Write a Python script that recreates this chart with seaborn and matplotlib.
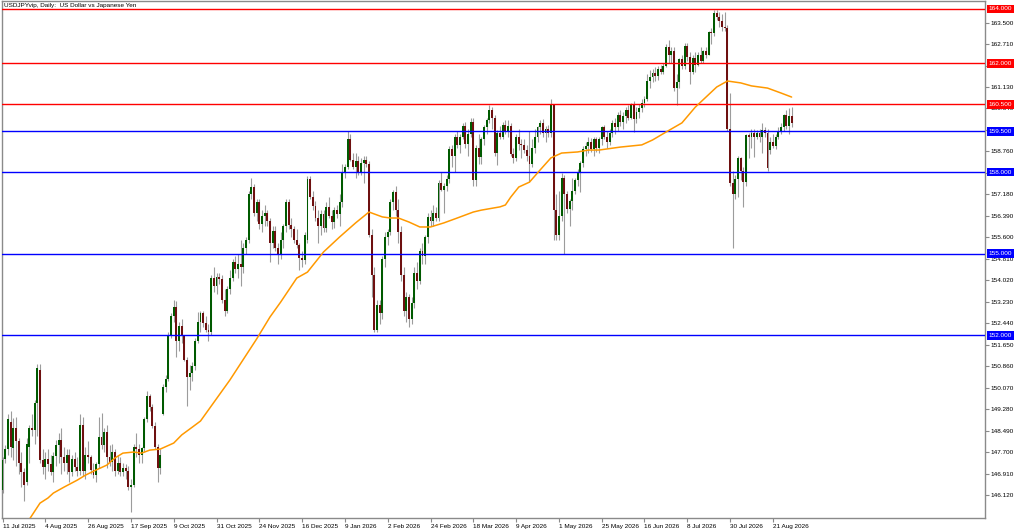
import numpy as np
import pandas as pd
import seaborn as sns
import matplotlib.pyplot as plt

sns.set_theme(style="white")
plt.rcParams['font.family'] = ['Liberation Sans', 'DejaVu Sans']

# ==========================================
# data
# ==========================================
opens = [
    146.30, 147.45, 147.80, 148.80, 147.85, 148.60, 148.10, 147.30, 146.95, 146.60, 147.90, 148.60, 148.50, 149.50, 150.70, 147.40,
    147.15, 147.45, 147.25, 146.95, 147.55, 147.95, 148.15, 147.50, 147.30, 147.60, 146.95, 147.45, 147.15, 147.00, 148.70, 147.00,
    147.60, 147.50, 147.05, 146.85, 147.25, 148.25, 147.95, 148.45, 147.50, 147.35, 147.70, 147.00, 147.30, 146.95, 147.10, 147.00,
    146.40, 146.50, 147.90, 147.80, 147.60, 147.85, 148.90, 149.75, 149.35, 148.65, 147.90, 147.10, 149.10, 150.10, 150.40, 152.00,
    152.70, 153.05, 151.80, 152.35, 152.00, 151.10, 150.45, 150.60, 150.85, 151.80, 152.50, 152.80, 152.45, 152.20, 152.10, 154.10,
    153.80, 154.15, 154.05, 153.30, 152.90, 153.70, 154.10, 154.70, 154.45, 154.60, 154.50, 155.20, 155.50, 157.20, 157.45, 156.50,
    156.90, 156.10, 156.40, 156.50, 156.20, 155.40, 155.85, 155.20, 155.00, 155.50, 156.00, 156.90, 156.05, 155.90, 155.50, 155.30,
    154.85, 154.75, 155.50, 157.75, 157.10, 156.75, 156.30, 156.00, 156.45, 155.95, 156.70, 156.40, 156.15, 156.60, 156.45, 156.90,
    158.00, 158.20, 159.20, 158.45, 158.20, 158.40, 158.00, 158.35, 158.45, 158.30, 155.70, 154.20, 152.20, 153.10, 152.80, 154.80,
    155.60, 155.80, 156.90, 157.25, 156.60, 155.80, 154.20, 152.90, 153.40, 152.60, 153.20, 154.30, 154.00, 155.10, 154.90, 155.60,
    156.35, 156.20, 156.50, 156.30, 157.60, 157.35, 157.50, 157.75, 158.85, 158.60, 159.30, 159.00, 159.30, 159.70, 159.05, 159.40,
    159.85, 157.70, 158.90, 158.55, 159.20, 159.65, 159.90, 160.30, 160.00, 158.70, 159.45, 159.30, 159.75, 159.50, 159.70, 158.65,
    158.50, 159.30, 159.05, 159.00, 158.80, 158.60, 158.30, 158.90, 159.30, 159.65, 159.80, 159.45, 159.60, 159.45, 160.45, 156.60,
    155.70, 156.40, 157.80, 157.20, 156.65, 156.95, 157.30, 157.70, 157.95, 158.35, 158.85, 158.95, 159.10, 158.85, 159.20, 158.90,
    159.20, 159.65, 159.30, 159.10, 159.45, 159.80, 159.65, 160.10, 159.85, 160.05, 160.30, 160.00, 160.45, 159.95, 160.20, 160.35,
    160.55, 160.70, 161.35, 161.50, 161.65, 161.55, 161.80, 161.70, 161.90, 162.60, 162.30, 162.45, 161.10, 161.30, 162.15, 161.90,
    162.65, 162.25, 161.70, 162.20, 161.95, 162.30, 162.10, 162.45, 162.30, 163.15, 163.10, 163.85, 163.70, 163.55, 163.35, 163.30,
    159.60, 157.60, 157.20, 157.75, 158.50, 158.05, 157.65, 159.35, 159.30, 159.45, 159.30, 159.45, 159.30, 159.55, 159.45, 158.80,
    159.10, 158.95, 159.30, 159.50, 159.65, 160.10, 159.70, 160.05,
]
highs = [
    147.50, 147.95, 149.10, 149.20, 148.95, 149.00, 148.20, 147.70, 147.10, 148.20, 148.70, 149.10, 149.60, 150.95, 150.95, 147.80,
    147.70, 147.80, 147.60, 147.70, 148.15, 148.40, 148.60, 147.90, 147.80, 147.80, 147.60, 147.70, 147.50, 149.10, 149.00, 147.90,
    148.10, 147.60, 147.30, 147.35, 149.00, 149.15, 148.60, 148.70, 147.95, 148.00, 147.80, 147.60, 147.50, 147.30, 147.25, 147.20,
    146.70, 148.00, 148.40, 148.00, 147.90, 149.00, 149.95, 149.85, 149.45, 148.80, 148.00, 147.80, 150.20, 150.55, 152.10, 152.80,
    153.30, 153.25, 152.50, 152.60, 152.00, 151.20, 150.90, 151.00, 151.90, 152.85, 152.90, 152.90, 152.70, 152.40, 154.20, 154.50,
    154.30, 154.30, 154.20, 153.70, 153.80, 154.40, 154.80, 154.90, 155.00, 155.50, 155.40, 155.60, 157.30, 157.80, 157.55, 157.00,
    157.00, 156.60, 156.80, 156.60, 156.30, 156.00, 156.00, 155.40, 155.80, 156.10, 157.00, 157.00, 156.30, 156.00, 155.90, 155.40,
    155.10, 155.80, 157.85, 157.85, 157.30, 156.95, 156.60, 156.60, 156.60, 156.90, 157.10, 156.60, 156.70, 156.80, 157.20, 158.30,
    158.30, 159.50, 159.40, 158.70, 158.70, 158.60, 158.50, 158.60, 158.60, 158.40, 155.90, 154.50, 153.30, 153.30, 154.90, 155.80,
    155.90, 157.00, 157.35, 157.50, 157.00, 156.00, 154.50, 153.60, 153.50, 153.40, 154.50, 154.70, 155.20, 155.40, 155.70, 156.50,
    156.60, 156.80, 156.70, 157.70, 158.00, 157.60, 157.90, 158.95, 159.00, 159.40, 159.50, 159.40, 159.80, 159.85, 159.60, 160.00,
    160.00, 159.00, 159.40, 159.30, 159.75, 160.00, 160.47, 160.40, 160.10, 159.55, 159.70, 159.85, 159.90, 159.90, 159.80, 158.90,
    159.40, 159.60, 159.20, 159.20, 159.00, 159.50, 159.20, 159.60, 159.70, 159.90, 159.95, 159.70, 159.75, 160.70, 160.50, 157.20,
    157.30, 157.95, 157.90, 157.30, 157.00, 157.80, 157.80, 158.10, 158.40, 158.95, 159.10, 159.30, 159.25, 159.30, 159.30, 159.30,
    159.70, 159.75, 159.50, 159.60, 159.90, 160.00, 160.20, 160.30, 160.20, 160.40, 160.45, 160.55, 160.60, 160.40, 160.50, 160.70,
    160.80, 161.60, 161.75, 161.80, 161.85, 161.90, 161.95, 162.00, 162.70, 162.85, 162.60, 162.60, 161.60, 162.20, 162.30, 162.75,
    162.75, 162.40, 162.30, 162.40, 162.40, 162.60, 162.50, 162.60, 163.20, 163.30, 163.95, 163.97, 163.90, 163.80, 163.90, 163.40,
    160.90, 158.05, 157.90, 158.60, 158.55, 158.20, 159.40, 159.45, 159.60, 159.60, 159.55, 159.60, 159.80, 159.65, 159.60, 159.30,
    159.40, 159.40, 159.65, 159.80, 160.15, 160.30, 160.35, 160.40,
]
lows = [
    146.20, 147.30, 147.60, 147.50, 147.40, 147.20, 146.90, 146.40, 145.90, 146.50, 147.30, 148.30, 148.00, 148.30, 147.30, 146.90,
    146.70, 147.00, 146.85, 146.60, 147.20, 147.30, 146.90, 147.00, 146.90, 146.60, 146.80, 147.00, 146.80, 146.85, 146.80, 146.70,
    147.30, 146.90, 146.75, 146.60, 147.10, 147.80, 147.70, 147.10, 147.20, 147.00, 146.80, 146.90, 146.80, 146.80, 146.70, 146.30,
    145.50, 146.40, 147.50, 147.30, 147.30, 147.70, 148.80, 149.20, 148.60, 147.80, 146.60, 146.90, 149.05, 149.90, 150.30, 151.90,
    152.50, 151.20, 151.40, 151.70, 151.05, 149.40, 150.00, 150.30, 150.70, 151.70, 152.10, 152.30, 152.10, 151.80, 152.00, 153.60,
    153.50, 153.90, 153.20, 152.70, 152.80, 153.50, 154.00, 154.30, 154.10, 153.80, 154.30, 155.00, 155.40, 157.00, 156.40, 156.20,
    155.90, 155.80, 156.00, 156.00, 154.70, 155.20, 155.10, 154.60, 154.80, 155.20, 155.80, 155.90, 155.60, 155.40, 155.20, 154.40,
    154.50, 154.60, 155.40, 157.00, 156.60, 156.20, 155.40, 155.70, 155.80, 155.80, 156.30, 155.90, 155.95, 156.30, 156.00, 156.70,
    157.80, 158.10, 158.40, 158.10, 157.80, 157.90, 157.90, 157.60, 158.20, 155.60, 153.40, 152.10, 152.10, 152.40, 152.60, 154.50,
    155.30, 155.70, 156.60, 156.40, 155.40, 154.00, 152.70, 152.50, 152.30, 152.40, 153.00, 153.70, 153.90, 154.60, 154.60, 155.40,
    156.00, 156.00, 156.20, 156.20, 157.30, 156.50, 157.30, 157.60, 158.20, 158.00, 158.90, 158.70, 159.20, 158.90, 158.60, 159.30,
    157.50, 157.50, 158.30, 158.30, 159.00, 159.40, 159.80, 159.60, 158.60, 158.25, 159.20, 159.20, 159.40, 159.30, 158.60, 158.35,
    158.40, 158.80, 158.50, 158.70, 158.40, 157.65, 158.20, 158.70, 159.10, 159.40, 159.30, 159.10, 159.30, 159.30, 155.50, 155.50,
    155.50, 156.20, 155.00, 156.50, 156.00, 156.60, 157.20, 157.50, 157.25, 158.20, 158.60, 158.70, 158.75, 158.60, 158.75, 158.70,
    159.00, 159.20, 158.90, 159.00, 159.30, 159.40, 159.50, 159.70, 159.60, 159.80, 159.90, 159.95, 159.47, 159.80, 160.00, 160.20,
    160.40, 160.60, 161.10, 161.30, 161.35, 161.40, 161.60, 161.60, 161.85, 162.00, 162.00, 161.00, 160.45, 161.10, 161.80, 161.80,
    162.10, 161.25, 161.60, 161.70, 161.90, 162.00, 162.00, 162.20, 162.30, 162.70, 163.00, 163.60, 163.35, 163.20, 163.20, 159.50,
    157.50, 155.20, 157.00, 157.10, 157.70, 156.70, 157.50, 158.50, 158.90, 158.55, 159.20, 159.10, 158.70, 159.30, 158.05, 158.65,
    158.90, 158.85, 159.20, 159.40, 159.50, 159.60, 159.40, 159.65,
]
closes = [
    147.40, 147.80, 148.90, 147.90, 148.60, 148.10, 147.30, 146.95, 146.50, 148.00, 148.60, 148.50, 149.50, 150.80, 147.40, 147.15,
    147.45, 147.25, 146.95, 147.55, 147.95, 148.15, 147.50, 147.30, 147.60, 146.95, 147.45, 147.15, 147.00, 148.70, 147.00, 147.60,
    147.50, 147.05, 146.85, 147.25, 148.25, 147.95, 148.45, 147.50, 147.35, 147.70, 147.00, 147.30, 146.95, 147.10, 147.00, 146.40,
    146.50, 147.90, 147.80, 147.60, 147.85, 148.90, 149.75, 149.35, 148.65, 147.90, 147.10, 147.60, 150.10, 150.40, 152.00, 152.70,
    153.05, 151.80, 152.35, 152.00, 151.10, 150.45, 150.60, 150.85, 151.80, 152.50, 152.80, 152.45, 152.20, 152.10, 154.10, 153.80,
    154.15, 154.05, 153.30, 152.90, 153.70, 154.10, 154.70, 154.45, 154.60, 154.50, 155.20, 155.50, 157.20, 157.45, 156.50, 156.90,
    156.10, 156.40, 156.50, 156.20, 155.40, 155.85, 155.20, 155.00, 155.50, 156.00, 156.90, 156.05, 155.90, 155.50, 155.30, 154.85,
    154.75, 155.70, 157.75, 157.10, 156.75, 156.30, 156.00, 156.45, 155.95, 156.70, 156.40, 156.15, 156.60, 156.45, 156.90, 158.00,
    158.20, 159.20, 158.45, 158.20, 158.40, 158.00, 158.35, 158.45, 158.30, 155.70, 154.20, 152.20, 153.10, 152.80, 154.80, 155.60,
    155.80, 156.90, 157.25, 156.60, 155.80, 154.20, 152.90, 153.40, 152.60, 153.20, 154.30, 154.00, 155.10, 154.90, 155.60, 156.35,
    156.20, 156.50, 156.30, 157.60, 157.35, 157.50, 157.75, 158.85, 158.60, 159.30, 159.00, 159.30, 159.70, 159.05, 159.40, 159.85,
    157.70, 158.90, 158.55, 159.20, 159.65, 159.90, 160.30, 160.00, 158.70, 159.45, 159.30, 159.75, 159.50, 159.70, 158.65, 158.50,
    159.30, 159.05, 159.00, 158.80, 158.60, 158.30, 158.90, 159.30, 159.65, 159.80, 159.45, 159.60, 159.45, 160.45, 156.60, 155.70,
    156.40, 157.80, 157.20, 156.65, 156.95, 157.30, 157.70, 157.95, 158.35, 158.85, 158.95, 159.10, 158.85, 159.20, 158.90, 159.20,
    159.65, 159.30, 159.10, 159.45, 159.80, 159.65, 160.10, 159.85, 160.05, 160.30, 160.00, 160.45, 159.95, 160.20, 160.35, 160.55,
    160.70, 161.35, 161.50, 161.65, 161.55, 161.80, 161.70, 161.90, 162.60, 162.30, 162.45, 161.10, 161.30, 162.15, 161.90, 162.65,
    162.25, 161.70, 162.20, 161.95, 162.30, 162.10, 162.45, 162.30, 163.15, 163.10, 163.85, 163.70, 163.55, 163.35, 163.30, 159.60,
    157.60, 157.20, 157.75, 158.50, 158.05, 157.65, 159.35, 159.30, 159.45, 159.30, 159.45, 159.30, 159.55, 159.45, 158.15, 159.10,
    158.95, 159.30, 159.50, 159.65, 160.10, 159.70, 160.05, 159.80,
]

# moving average (orange line), bar index -> value
ma_bar = [10, 14, 17, 19, 23, 28, 31, 35, 39, 42, 45, 49, 52, 55, 59, 64, 67, 71, 74, 85,
          95, 100, 104, 110, 114, 120, 126, 132, 137, 142, 145, 148, 152, 156, 160, 165, 170, 176, 179, 186,
          188, 190, 193, 197, 201, 205, 209, 215, 219, 223, 231, 239, 243, 248, 254, 259, 263, 267, 271, 276,
          280, 286, 291, 295]
ma_val = [145.22, 145.82, 146.01, 146.19, 146.41, 146.67, 146.85, 147.04, 147.22, 147.48, 147.66, 147.70, 147.66, 147.77, 147.81, 148.03, 148.33, 148.62, 148.84, 150.35,
          151.86, 152.67, 153.22, 154.10, 154.32, 155.06, 155.61, 156.13, 156.53, 156.35, 156.31, 156.31, 156.16, 155.98, 155.98, 156.13, 156.31, 156.53, 156.60, 156.72,
          156.79, 157.08, 157.45, 157.63, 158.08, 158.52, 158.70, 158.74, 158.81, 158.81, 158.92, 159.00, 159.18, 159.47, 159.81, 160.39, 160.76, 161.13, 161.35, 161.28,
          161.17, 161.09, 160.91, 160.76]

red_levels = [164.0, 162.0, 160.5]
blue_levels = [159.5, 158.0, 155.0, 152.0]

x_tick_labels = ['11 Jul 2025', '4 Aug 2025', '26 Aug 2025', '17 Sep 2025', '9 Oct 2025', '31 Oct 2025',
                 '24 Nov 2025', '16 Dec 2025', '9 Jan 2026', '2 Feb 2026', '24 Feb 2026', '18 Mar 2026',
                 '9 Apr 2026', '1 May 2026', '25 May 2026', '16 Jun 2026', '8 Jul 2026', '30 Jul 2026',
                 '21 Aug 2026']
y_ticks = [146.12, 146.91, 147.70, 148.49, 149.28, 150.07, 150.86, 151.65, 152.44, 153.23, 154.02, 154.81,
           155.60, 156.39, 157.18, 157.97, 158.76, 159.55, 160.34, 161.13, 161.92, 162.71, 163.50]
# these three sit fully under a level box on the reference
hidden_ticks = [157.97, 159.55, 161.92]

TITLE = 'USDJPYvip, Daily:  US Dollar vs Japanese Yen'
GREEN = '#005a00'
RED = '#6e1010'
WICK = '#9c9c9c'
FRAME = '#8a8a8a'
FS = 4.6

# ==========================================
# build frame
# ==========================================
df = pd.DataFrame({'o': opens, 'h': highs, 'l': lows, 'c': closes})
df['bar'] = np.arange(len(df))
df['up'] = df['c'] >= df['o']
df['bottom'] = df[['o', 'c']].min(axis=1)
df['body'] = (df['c'] - df['o']).abs().clip(lower=0.03)
ma_df = pd.DataFrame({'bar': ma_bar, 'ma': ma_val})

# ==========================================
# draw
# ==========================================
fig = plt.figure(figsize=(10.24, 5.30), dpi=100)
ax = fig.add_axes([2 / 1024, 12 / 530, 983 / 1024, 517 / 530])
ax.set_facecolor('white')

ax.vlines(df['bar'], df['l'], df['h'], color=WICK, linewidth=0.8, zorder=2)
ax.bar(df['bar'], df['body'], bottom=df['bottom'], width=0.72,
       color=np.where(df['up'], GREEN, RED), linewidth=0, zorder=3)

for lvl in red_levels:
    ax.axhline(lvl, color='#ff0000', linewidth=1.0, zorder=4)
for lvl in blue_levels:
    ax.axhline(lvl, color='#0000ff', linewidth=1.0, zorder=4)

sns.lineplot(data=ma_df, x='bar', y='ma', ax=ax, color='#ff9900', linewidth=1.1, zorder=5)

ax.set_xlim(-0.2, 367.3)
ax.set_ylim(145.273, 164.294)

# axes / ticks
ax.yaxis.tick_right()
ax.set_yticks(y_ticks)
ax.set_yticklabels(['' if v in hidden_ticks else f'{v:.3f}' for v in y_ticks])
ax.set_xticks(np.arange(len(x_tick_labels)) * 16)
ax.set_xticklabels(x_tick_labels, ha='left')
ax.tick_params(axis='both', which='both', direction='out', length=3, width=0.8,
               color=FRAME, labelsize=FS, labelcolor='black', pad=1)
ax.tick_params(axis='y', right=True, left=False)
ax.tick_params(axis='x', bottom=True)
ax.set_xlabel('')
ax.set_ylabel('')
for sp in ax.spines.values():
    sp.set_color(FRAME)
    sp.set_linewidth(1.0)

# level labels on the price scale
for lvl, col in [(v, '#ff0000') for v in red_levels] + [(v, '#0000ff') for v in blue_levels]:
    ax.text(1.0035, lvl, f'{lvl:.3f}', transform=ax.get_yaxis_transform(), color='white',
            fontsize=FS, va='center', ha='left', zorder=10, clip_on=False,
            bbox=dict(boxstyle='square,pad=0.3', fc=col, ec='none'))

ax.text(0.002, 0.997, TITLE, transform=ax.transAxes, fontsize=FS, va='top', ha='left', color='black')

fig.savefig('out.png', dpi=100, facecolor='white')
